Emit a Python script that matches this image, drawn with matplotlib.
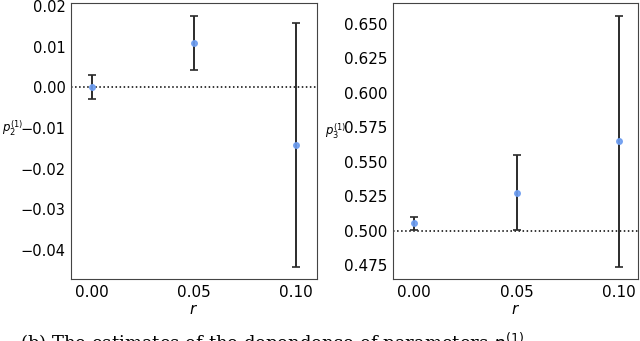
import matplotlib
matplotlib.use("Agg")
import matplotlib.pyplot as plt

# data
r_vals = [0.00, 0.05, 0.10]
p2_vals = [0.0000, 0.0109, -0.0141]
p2_err = [0.0030, 0.0067, 0.0300]
p3_vals = [0.5054, 0.5275, 0.5648]
p3_err = [0.0046, 0.0270, 0.0910]
p2_ref = 0.0
p3_ref = 0.5
x_ticks = [0.00, 0.05, 0.10]
p2_ticks = [-0.04, -0.03, -0.02, -0.01, 0.00, 0.01, 0.02]
p3_ticks = [0.475, 0.500, 0.525, 0.550, 0.575, 0.600, 0.625, 0.650]

plt.rcParams['font.size'] = 11
plt.rcParams['mathtext.fontset'] = 'dejavusans'

fig = plt.figure(figsize=(6.4, 3.41), dpi=100)
ax1 = fig.add_axes([71 / 640, 1 - 279 / 341, 246 / 640, 276 / 341])
ax2 = fig.add_axes([393 / 640, 1 - 279 / 341, 245 / 640, 276 / 341])


def draw_panel(ax, vals, errs, ref, ylabel, ylim, xlim):
    ax.axhline(ref, color='black', linestyle=':', linewidth=1.1, zorder=1)
    ax.errorbar(r_vals, vals, yerr=errs, fmt='none', ecolor='#2b2b2b',
                elinewidth=1.4, capsize=3, capthick=1.2, zorder=2)
    ax.plot(r_vals, vals, 'o', color='#6c9cf0', markersize=4, alpha=0.9, zorder=3)
    ax.set_xlim(*xlim)
    ax.set_ylim(*ylim)
    ax.set_xticks(x_ticks)
    ax.set_xticklabels([f"{t:.2f}" for t in x_ticks])
    ax.tick_params(direction='in', length=0, pad=4)
    ax.set_xlabel('$r$', labelpad=2)
    lab = ax.set_ylabel(ylabel, rotation=0, fontsize=8.5)
    lab.set_ha('right')
    for s in ax.spines.values():
        s.set_color('#444444')


draw_panel(ax1, p2_vals, p2_err, p2_ref, '$p_2^{(1)}$',
           (-0.0471, 0.0207), (-0.0103, 0.1105))
ax1.set_yticks(p2_ticks)
ax1.set_yticklabels([f"{t:.2f}".replace('-', '\u2212') for t in p2_ticks])
ax1.tick_params(axis='y', labelsize=10.5)
ax1.yaxis.set_label_coords(-0.195, 0.51)

draw_panel(ax2, p3_vals, p3_err, p3_ref, '$p_3^{(1)}$',
           (0.465, 0.665), (-0.0104, 0.1091))
ax2.set_yticks(p3_ticks)
ax2.set_yticklabels([f"{t:.3f}" for t in p3_ticks])
ax2.yaxis.set_label_coords(-0.19, 0.50)

# caption, cut off at the bottom edge like in the source image
fig.text(20 / 640, -0.025, r'(b) The estimates of the dependence of parameters $p^{(1)}$',
         ha='left', va='baseline', fontsize=13, family='DejaVu Serif')

fig.savefig('out.png', dpi=100)
